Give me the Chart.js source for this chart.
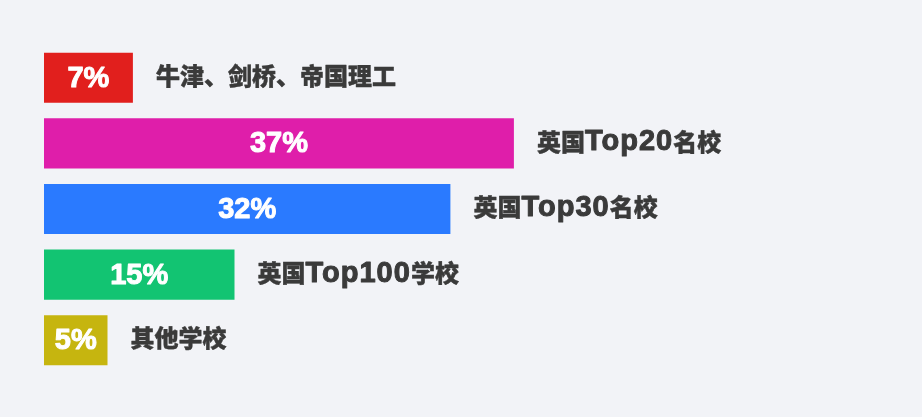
<!DOCTYPE html>
<html>
<head>
<meta charset="utf-8">
<script src="https://cdn.jsdelivr.net/npm/chart.js@4"></script>
<style>
  html, body { margin: 0; padding: 0; background: #f2f3f7; }
  #wrap { width: 922px; height: 417px; }
</style>
</head>
<body>
<div id="wrap"><canvas id="schoolChart" width="922" height="417"></canvas></div>
<script>
// 学生去向分布
const schools = ["牛津、剑桥、帝国理工", "英国Top20名校", "英国Top30名校", "英国Top100学校", "其他学校"];
const shares = [7, 37, 32, 15, 5];
const barColors = ["#e11f1d", "#df1eaa", "#2a7aff", "#12c472", "#c6b50f"];

const cjkRe = /[\u3000-\u303f\u4e00-\u9fff]+|[^\u3000-\u303f\u4e00-\u9fff]+/g;

// fill + thin stroke so the text looks as heavy as the original
const heavyText = (ctx, text, x, y, w) => {
  ctx.lineWidth = w;
  ctx.lineJoin = "round";
  ctx.strokeText(text, x, y);
  ctx.fillText(text, x, y);
};

// draw text with a different font for chinese and latin runs
const drawMixed = (ctx, text, x, y) => {
  const runs = text.match(cjkRe) || [];
  runs.forEach((run) => {
    const isCjk = /[\u3000-\u303f\u4e00-\u9fff]/.test(run);
    ctx.font = isCjk
      ? '900 24px "Noto Sans CJK SC", sans-serif'
      : 'bold 29px "Liberation Sans", Arial, sans-serif';
    ctx.letterSpacing = isCjk ? "0px" : "1px";
    heavyText(ctx, run, x, isCjk ? y : y + 1, isCjk ? 0.4 : 1);
    x += ctx.measureText(run).width;
  });
  ctx.letterSpacing = "0px";
};

const barLabels = {
  id: "barLabels",
  afterDatasetsDraw(chart) {
    const ctx = chart.ctx;
    const meta = chart.getDatasetMeta(0);
    ctx.save();
    ctx.textBaseline = "middle";
    meta.data.forEach((bar, i) => {
      // value inside the bar
      ctx.fillStyle = "#ffffff";
      ctx.strokeStyle = "#ffffff";
      ctx.textAlign = "center";
      ctx.font = 'bold 29px "Liberation Sans", Arial, sans-serif';
      heavyText(ctx, shares[i] + "%", (bar.base + bar.x) / 2, bar.y + 1, 1);
      // school group to the right
      ctx.fillStyle = "#3a3a3a";
      ctx.strokeStyle = "#3a3a3a";
      ctx.textAlign = "left";
      drawMixed(ctx, schools[i], bar.x + 23, bar.y - 2);
    });
    ctx.restore();
  },
};

const ctx = document.getElementById("schoolChart");
new Chart(ctx, {
  type: "bar",
  data: {
    labels: schools,
    datasets: [
      {
        data: shares,
        backgroundColor: barColors,
        borderWidth: 0,
        barPercentage: 1,
        categoryPercentage: 0.763,
      },
    ],
  },
  options: {
    indexAxis: "y",
    responsive: false,
    animation: false,
    devicePixelRatio: 1,
    layout: {
      padding: { left: 44, right: 116, top: 45, bottom: 44 },
    },
    scales: {
      x: { display: false, min: 0, max: 60, grid: { display: false } },
      y: { display: false, grid: { display: false } },
    },
    plugins: {
      legend: { display: false },
      tooltip: { enabled: false },
    },
  },
  plugins: [barLabels],
});
</script>
</body>
</html>
